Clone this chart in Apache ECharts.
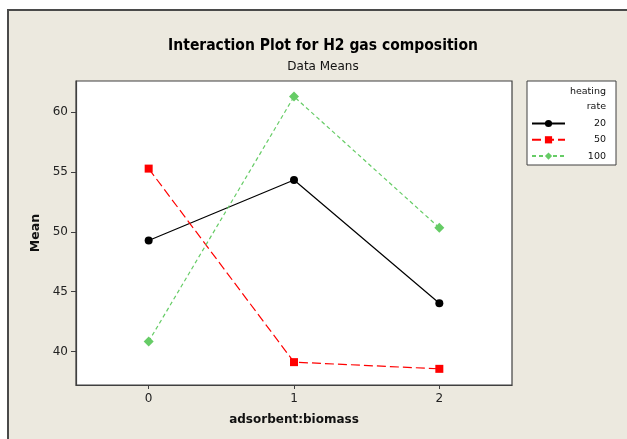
<!DOCTYPE html>
<html>
<head>
<meta charset="utf-8">
<script src="https://cdn.jsdelivr.net/npm/echarts@6/dist/echarts.min.js"></script>
<style>
html,body{margin:0;padding:0;background:#fff;}
#chart{width:627px;height:439px;}
</style>
</head>
<body>
<div id="chart"></div>
<script>
// ---- data ----
const categories = ['0', '1', '2'];
const seriesNames = ['20', '50', '100'];
const rate20 = [49.27, 54.33, 44.03];
const rate50 = [55.28, 39.11, 38.55];
const rate100 = [40.84, 61.30, 50.33];
const yTicks = [40, 45, 50, 55, 60];

const FONT = 'DejaVu Sans';
const chart = echarts.init(document.getElementById('chart'), null, {renderer: 'canvas'});

const option = {
  animation: false,
  backgroundColor: '#ffffff',
  textStyle: {fontFamily: FONT},
  graphic: [
    {type: 'rect', z: -10, silent: true,
     shape: {x: 8, y: 10, width: 700, height: 500},
     style: {fill: '#ECE9DF', stroke: '#4a4a4a', lineWidth: 2}},
    {type: 'rect', z: 1, silent: true,
     shape: {x: 527, y: 81, width: 89, height: 84},
     style: {fill: '#ffffff', stroke: '#404040', lineWidth: 1}},
    {type: 'text', z: 2, silent: true, right: 21, top: 87,
     style: {text: 'heating', font: '9.5px ' + FONT, fill: '#111', textAlign: 'right'}},
    {type: 'text', z: 2, silent: true, right: 21, top: 102,
     style: {text: 'rate', font: '9.5px ' + FONT, fill: '#111', textAlign: 'right'}}
  ],
  title: [
    {text: 'Interaction Plot for H2 gas composition', left: 318, top: 33, textAlign: 'center',
     textStyle: {fontFamily: 'DejaVu Sans Condensed', fontWeight: 'bold', fontSize: 15.5, color: '#000'}},
    {text: 'Data Means', left: 318, top: 56, textAlign: 'center',
     textStyle: {fontFamily: FONT, fontWeight: 'normal', fontSize: 12, color: '#111'}}
  ],
  legend: {
    orient: 'vertical', left: 531, top: 118.5, padding: 0,
    itemWidth: 33, itemHeight: 9, itemGap: 6.3,
    data: seriesNames,
    formatter: function (n) { return '{v|' + n + '}'; },
    textStyle: {
      fontFamily: FONT, fontSize: 9.5, color: '#111',
      rich: {v: {width: 36, align: 'right', fontSize: 9.5, fontFamily: FONT}}
    },
    z: 3
  },
  grid: {left: 76, top: 81, right: 115, bottom: 54, show: true,
         backgroundColor: '#ffffff', borderColor: '#404040', borderWidth: 1.2},
  xAxis: {
    type: 'category', data: categories, boundaryGap: true,
    name: 'adsorbent:biomass', nameLocation: 'middle', nameGap: 29,
    nameTextStyle: {fontFamily: FONT, fontWeight: 'bold', fontSize: 12, color: '#111'},
    axisLine: {show: true, lineStyle: {color: '#404040', width: 1.2}},
    axisTick: {show: true, alignWithLabel: true, length: 4, lineStyle: {color: '#404040'}},
    axisLabel: {fontFamily: FONT, fontSize: 12, color: '#222', margin: 8},
    splitLine: {show: false}
  },
  yAxis: {
    type: 'value', min: 37.2, max: 62.6,
    name: 'Mean', nameLocation: 'middle', nameGap: 28, nameRotate: 90,
    nameTextStyle: {fontFamily: FONT, fontWeight: 'bold', fontSize: 12.5, color: '#111'},
    axisLine: {show: true, lineStyle: {color: '#404040', width: 1.2}},
    axisTick: {show: true, length: 5, lineStyle: {color: '#404040'},
               customValues: yTicks},
    axisLabel: {fontFamily: FONT, fontSize: 12, color: '#222', margin: 8,
                customValues: yTicks},
    splitLine: {show: false}
  },
  series: [
    {name: seriesNames[0], type: 'line', data: rate20,
     symbol: 'circle', symbolSize: 8,
     lineStyle: {color: '#000', width: 1.2, type: 'solid'},
     itemStyle: {color: '#000'}},
    {name: seriesNames[1], type: 'line', data: rate50,
     symbol: 'rect', symbolSize: 8,
     lineStyle: {color: '#ff0000', width: 1.2, type: [9, 4]},
     itemStyle: {color: '#ff0000'}},
    {name: seriesNames[2], type: 'line', data: rate100,
     symbol: 'diamond', symbolSize: 10,
     lineStyle: {color: '#66cc66', width: 1.2, type: [4, 3]},
     itemStyle: {color: '#66cc66'}}
  ]
};
chart.setOption(option);
</script>
</body>
</html>
